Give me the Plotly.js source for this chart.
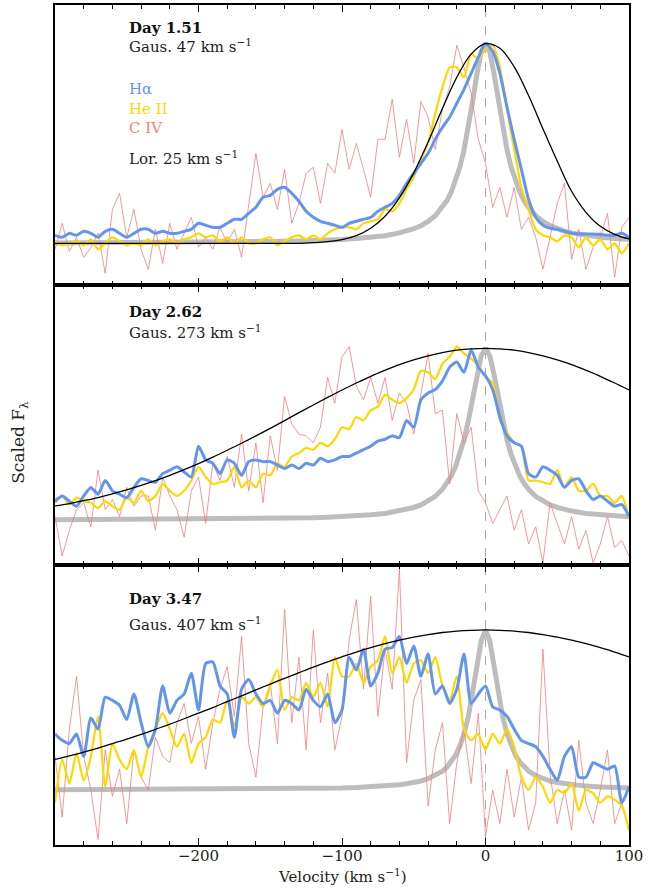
<!DOCTYPE html>
<html>
<head>
<meta charset="utf-8">
<script src="https://cdn.plot.ly/plotly-3.0.1.min.js"></script>
<style>html,body{margin:0;padding:0;background:#fff}#chart{width:665px;height:888px}</style>
</head>
<body>
<div id="chart"></div>
<script>
// Velocity grid of the spectra (km/s)
const vel = [-300,-295,-290,-285,-280,-275,-270,-265,-260,-255,-250,-245,-240,-235,-230,-225,-220,-215,-210,-205,-200,-195,-190,-185,-180,-175,-170,-165,-160,-155,-150,-145,-140,-135,-130,-125,-120,-115,-110,-105,-100,-95,-90,-85,-80,-75,-70,-65,-60,-55,-50,-45,-40,-35,-30,-25,-20,-15,-10,-5,0,5,10,15,20,25,30,35,40,45,50,55,60,65,70,75,80,85,90,95,100];

// Day 1.51
const ha1 = [0.04,0.03,0.05,0.04,0.06,0.05,0.03,0.06,0.07,0.05,0.03,0.05,0.07,0.07,0.05,0.06,0.05,0.05,0.06,0.07,0.10,0.09,0.08,0.08,0.10,0.12,0.12,0.15,0.18,0.23,0.24,0.27,0.28,0.25,0.21,0.16,0.13,0.11,0.10,0.09,0.08,
 0.10,0.11,0.12,0.13,0.16,0.18,0.20,0.24,0.30,0.35,0.40,0.45,0.52,0.58,0.63,0.70,0.77,0.85,0.93,1.00,0.96,0.85,0.68,0.52,0.37,0.22,0.13,0.09,0.075,0.07,0.06,0.05,0.047,0.047,0.047,0.045,0.04,0.04,0.05,0.03];
const he1 = [0.01,-0.01,0,0.01,-0.01,0.02,-0.03,0,0.03,0.01,-0.01,0,-0.01,0.02,-0.01,0.01,0.02,0,0.02,0.03,0.05,0.03,0.04,0.01,0.03,0,0.03,0,0,0.02,0.03,-0.01,0.01,0.03,0.04,0.02,0.04,0.02,0.05,0.07,0.08,
 0.08,0.07,0.10,0.11,0.12,0.17,0.16,0.20,0.27,0.33,0.42,0.50,0.65,0.78,0.88,0.88,0.83,0.95,0.92,0.97,0.99,0.88,0.67,0.47,0.28,0.17,0.07,0.04,0.03,0.01,0.04,0.03,-0.02,0.03,-0.01,0.02,-0.03,0,-0.05,0];
const civ1 = [-0.03,0.10,-0.04,0.03,-0.07,-0.02,0.05,-0.15,0.17,0.25,0.03,0.17,-0.03,-0.13,0.07,-0.10,0.10,-0.03,0.05,0.13,-0.02,0.03,-0.03,0.08,0,0.07,-0.07,0.20,0.45,0.23,0.30,0.17,0.37,0.10,0.20,0.35,0.38,0.20,0.40,0.35,0.57,
 0.37,0.50,0.37,0.23,0.52,0.52,0.72,0.43,0.62,0.40,0.71,0.63,0.47,0.67,0.78,0.99,0.88,0.75,0.52,0.40,0.18,0.28,0.13,0.28,0.07,0.13,0.03,-0.13,0.03,0.20,0.30,-0.08,0.07,-0.13,-0.02,0.03,0.15,-0.17,0.08,0.13];

// Day 2.62
const ha2 = [0.11,0.14,0.11,0.08,0.14,0.19,0.15,0.23,0.17,0.15,0.13,0.19,0.24,0.23,0.22,0.27,0.29,0.31,0.28,0.25,0.43,0.35,0.33,0.27,0.35,0.33,0.26,0.34,0.35,0.34,0.34,0.32,0.30,0.32,0.30,0.33,0.32,0.36,0.34,0.35,0.37,
 0.37,0.39,0.41,0.43,0.46,0.47,0.49,0.48,0.58,0.54,0.70,0.74,0.76,0.81,0.89,0.92,0.86,0.99,0.89,0.84,0.76,0.60,0.49,0.45,0.43,0.27,0.25,0.31,0.29,0.26,0.19,0.23,0.24,0.17,0.12,0.14,0.11,0.08,0.09,0.02];
const he2 = [0.10,0.14,0.09,0.13,0.11,0.10,0.07,0.11,0.08,0.06,0.13,0.10,0.17,0.11,0.14,0.21,0.17,0.14,0.17,0.23,0.31,0.25,0.21,0.22,0.23,0.31,0.19,0.23,0.19,0.27,0.26,0.33,0.31,0.37,0.39,0.42,0.41,0.45,0.43,0.47,0.54,
 0.53,0.60,0.58,0.64,0.66,0.73,0.70,0.68,0.71,0.76,0.87,0.86,0.82,0.91,0.95,1.01,0.97,0.94,0.90,0.83,0.80,0.58,0.51,0.45,0.43,0.23,0.23,0.22,0.21,0.29,0.19,0.25,0.17,0.17,0.21,0.14,0.14,0.10,0.14,0.01];
const civ2 = [0.02,-0.21,-0.06,0.06,0.10,-0.04,0.29,0.06,0.12,0.02,0.19,0.08,0.14,0.14,-0.06,0.25,0.14,0.06,-0.10,0.17,0.25,-0.02,0.33,0.23,0.37,0.19,0.50,0.17,0.45,0.10,0.49,0.29,0.72,0.56,0.50,0.49,0.45,0.54,0.83,0.68,0.95,
 1.01,0.78,0.70,0.83,0.68,0.83,0.58,0.74,0.68,0.50,0.74,0.97,0.62,0.64,0.21,0.62,0.45,0.54,0.17,0.10,-0.02,0.06,0.14,-0.06,0.06,-0.14,-0.04,-0.25,0.10,-0.02,-0.14,0.02,-0.17,-0.06,-0.25,-0.14,0.02,-0.16,-0.12,-0.21];

// Day 3.47
const ha3 = [0.35,0.31,0.29,0.35,0.21,0.45,0.38,0.58,0.56,0.53,0.44,0.60,0.42,0.27,0.38,0.65,0.48,0.56,0.60,0.73,0.50,0.79,0.80,0.65,0.60,0.33,0.63,0.69,0.60,0.54,0.56,0.48,0.56,0.54,0.50,0.63,0.56,0.52,0.60,0.42,0.50,
 0.83,0.75,0.88,0.65,0.73,0.88,0.89,0.96,0.79,0.90,0.71,0.85,0.60,0.65,0.54,0.63,0.85,0.54,0.60,0.65,0.52,0.50,0.46,0.38,0.31,0.29,0.27,0.21,0.13,0.06,0.21,0.27,0.08,0.08,0.17,0.15,0.13,0.15,-0.08,0.02];
const he3 = [-0.08,0.19,0.04,0.23,0.06,0.21,0.46,0.02,0.29,0.19,0.13,0.25,0.08,0.27,0.38,0.48,0.38,0.27,0.35,0.17,0.29,0.33,0.44,0.42,0.56,0.40,0.58,0.54,0.58,0.52,0.65,0.75,0.50,0.58,0.56,0.67,0.58,0.67,0.52,0.83,0.71,
 0.71,0.79,0.67,0.77,0.81,0.96,0.73,0.83,0.67,0.79,0.81,0.73,0.83,0.65,0.56,0.71,0.38,0.31,0.35,0.25,0.35,0.29,0.38,0.27,0.08,0,0.08,0.02,-0.08,0,-0.02,0.04,-0.13,0,-0.02,-0.08,-0.04,-0.06,-0.10,-0.25];
const civ3 = [0.21,-0.17,0.38,0.71,0.21,0,-0.31,0.25,-0.04,0.13,-0.21,0.25,0.08,0,0.33,0.21,0.17,0.42,0.54,0.29,0.46,0.13,0.42,0.63,0.77,0.46,0.96,0.29,0.08,0.52,0.67,0.29,1.13,0.42,0.83,0.25,1.00,0.42,0.73,0.25,0.46,
 0.94,1.19,0.63,1.21,0.46,0.88,0.63,1.38,0.17,0.56,0.69,-0.10,0.25,0.42,-0.21,0.17,0.38,0.04,0.48,-0.29,0,-0.21,0.13,-0.17,0.08,-0.25,-0.08,0.88,0.10,-0.21,0,-0.25,0.31,-0.08,-0.21,0,0.25,-0.21,-0.08,-0.25];

// Gaussian fits
const gV = [-300,-290,-280,-270,-260,-250,-240,-230,-220,-210,-200,-190,-180,-170,-160,-150,-140,-130,-120,-110,-100,-90,-80,-70,-60,-50,-40,-30,-20,-10,0,10,20,30,40,50,60,70,80,90,100];
const gau1 = [0,0,0,0,0,0,0,0,0,0,0,0,0,0,0,0,0,0,0.003,0.008,0.018,0.038,0.075,0.135,0.227,0.352,0.506,0.674,0.83,0.946,0.998,0.975,0.882,0.739,0.573,0.411,0.26,0.155,0.085,0.045,0.022];
const gau2 = [0.082,0.096,0.113,0.131,0.152,0.175,0.201,0.229,0.260,0.293,0.328,0.366,0.406,0.447,0.490,0.534,0.579,0.625,0.670,0.714,0.757,0.798,0.837,0.872,0.905,0.933,0.956,0.975,0.989,0.997,1,0.997,0.989,0.975,0.956,0.933,0.905,0.872,0.837,0.798,0.757];
const gau3 = [0.191,0.213,0.237,0.262,0.289,0.317,0.347,0.379,0.411,0.445,0.480,0.515,0.552,0.588,0.625,0.662,0.698,0.733,0.768,0.801,0.832,0.862,0.889,0.914,0.936,0.955,0.971,0.984,0.993,0.998,1,0.998,0.993,0.984,0.971,0.955,0.936,0.914,0.889,0.862,0.832];

// Lorentzian fits
const lorV = [-300,-250,-200,-170,-150,-130,-120,-110,-100,-90,-80,-70,-60,-55,-50,-45,-40,-35,-30,-27,-24,-21,-18,-15,-12,-9,-6,-3,0,3,6,9,12,15,18,21,24,27,30,35,40,45,50,55,60,70,80,90,100];
const lor1 = [0.002,0.003,0.005,0.007,0.009,0.012,0.013,0.016,0.019,0.024,0.030,0.038,0.052,0.061,0.073,0.088,0.109,0.138,0.179,0.212,0.254,0.308,0.377,0.466,0.576,0.708,0.845,0.956,1,0.956,0.845,0.708,0.576,0.466,0.377,0.308,0.254,0.212,0.179,0.138,0.109,0.088,0.073,0.061,0.052,0.038,0.030,0.024,0.019];
const lor2 = [0.002,0.003,0.005,0.007,0.009,0.012,0.013,0.016,0.019,0.024,0.030,0.038,0.052,0.061,0.073,0.088,0.109,0.138,0.179,0.212,0.254,0.308,0.377,0.466,0.576,0.708,0.845,0.956,1,0.956,0.845,0.708,0.576,0.466,0.377,0.308,0.254,0.212,0.179,0.138,0.109,0.088,0.073,0.061,0.052,0.038,0.030,0.024,0.019];
const lor3 = [0.001,0.002,0.003,0.004,0.005,0.007,0.008,0.010,0.012,0.015,0.019,0.024,0.033,0.039,0.046,0.056,0.070,0.090,0.118,0.142,0.174,0.215,0.272,0.350,0.457,0.599,0.771,0.931,1,0.931,0.771,0.599,0.457,0.350,0.272,0.215,0.174,0.142,0.118,0.090,0.070,0.056,0.046,0.039,0.033,0.024,0.019,0.015,0.012];

const dayLabels = ['Day 1.51','Day 2.62','Day 3.47'];
const gausLabels = ['Gaus. 47 km s<sup>−1</sup>','Gaus. 273 km s<sup>−1</sup>','Gaus. 407 km s<sup>−1</sup>'];
const lorLabel = 'Lor. 25 km s<sup>−1</sup>';
const lineNames = ['Hα','He II','C IV'];
const xTicks = [-200,-100,0,100];

const C_HA = '#6495ED', C_HE = '#FFD700', C_CIV = '#F08080', C_LOR = '#BDBDBD';
const FONT = 'DejaVu Serif';

const panels = [
  {xa:'x3', ya:'y3', ha:ha1, he:he1, civ:civ1, gau:gau1, lor:lor1},
  {xa:'x2', ya:'y2', ha:ha2, he:he2, civ:civ2, gau:gau2, lor:lor2},
  {xa:'x',  ya:'y',  ha:ha3, he:he3, civ:civ3, gau:gau3, lor:lor3}
];

const traces = [];
panels.forEach(p => {
  traces.push({x:lorV, y:p.lor, xaxis:p.xa, yaxis:p.ya, mode:'lines', line:{color:C_LOR, width:5}, hoverinfo:'skip'});
  traces.push({x:vel, y:p.civ, xaxis:p.xa, yaxis:p.ya, mode:'lines', line:{color:C_CIV, width:1}, opacity:0.8, hoverinfo:'skip'});
  traces.push({x:vel, y:p.he, xaxis:p.xa, yaxis:p.ya, mode:'lines', line:{color:C_HE, width:2.2, shape:'spline', smoothing:0.6}, hoverinfo:'skip'});
  traces.push({x:vel, y:p.ha, xaxis:p.xa, yaxis:p.ya, mode:'lines', line:{color:C_HA, width:3, shape:'spline', smoothing:0.6}, hoverinfo:'skip'});
  traces.push({x:gV, y:p.gau, xaxis:p.xa, yaxis:p.ya, mode:'lines', line:{color:'black', width:1.3, shape:'spline'}, hoverinfo:'skip'});
});

function xax(anchor, labels) {
  return {
    range:[-300,100], anchor:anchor, showline:true, linewidth:2, linecolor:'black', mirror:'ticks',
    ticks:'inside', ticklen:7, tickwidth:1, tickcolor:'black', tickmode:'array', tickvals:xTicks,
    showticklabels:labels, showgrid:false, zeroline:false, ticklabelstandoff:-4,
    tickfont:{family:FONT, size:15, color:'#222'},
    minor:{tickmode:'linear', tick0:0, dtick:20, ticks:'inside', ticklen:4, tickwidth:1, tickcolor:'black', showgrid:false}
  };
}
function yax(anchor, domain, range) {
  return {
    domain:domain, range:range, anchor:anchor, showline:true, linewidth:2, linecolor:'black', mirror:true,
    ticks:'', showticklabels:false, showgrid:false, zeroline:false
  };
}

const annos = [];
const dayY = [0.9726, 0.6347, 0.2925];
const gauY = [0.9508, 0.6107, 0.2627];
for (let i = 0; i < 3; i++) {
  annos.push({xref:'paper', yref:'paper', x:0.1254, y:dayY[i], xanchor:'left', yanchor:'middle', showarrow:false,
    text:'<b>'+dayLabels[i]+'</b>', font:{family:FONT, size:15, color:'#111'}});
  annos.push({xref:'paper', yref:'paper', x:0.1254, y:gauY[i], xanchor:'left', yanchor:'middle', showarrow:false,
    text:gausLabels[i], font:{family:FONT, size:15, color:'#222'}});
}
const legY = [0.8997, 0.8766, 0.8532];
const legC = [C_HA, C_HE, C_CIV];
for (let i = 0; i < 3; i++) {
  annos.push({xref:'paper', yref:'paper', x:0.1254, y:legY[i], xanchor:'left', yanchor:'middle', showarrow:false,
    text:lineNames[i], font:{family:FONT, size:15, color:legC[i]}});
}
annos.push({xref:'paper', yref:'paper', x:0.1254, y:0.8175, xanchor:'left', yanchor:'middle', showarrow:false,
  text:lorLabel, font:{family:FONT, size:15, color:'#222'}});
annos.push({xref:'paper', yref:'paper', x:0.5, y:-0.0369, xanchor:'center', yanchor:'middle', showarrow:false,
  text:'Velocity (km s<sup>−1</sup>)', font:{family:FONT, size:15, color:'#222'}});
annos.push({xref:'paper', yref:'paper', x:-0.061, y:0.48, xanchor:'center', yanchor:'middle', showarrow:false, textangle:-90,
  text:'Scaled F<sub>λ</sub>', font:{family:FONT, size:17, color:'#222'}});

const layout = {
  width:665, height:888, margin:{l:55, r:36, t:5, b:43},
  paper_bgcolor:'#fff', plot_bgcolor:'#fff', showlegend:false,
  xaxis: xax('y', true), xaxis2: xax('y2', false), xaxis3: xax('y3', false),
  yaxis: yax('x', [0, 1/3], [-0.344, 1.406]),
  yaxis2: yax('x2', [1/3, 2/3], [-0.2621, 1.3687]),
  yaxis3: yax('x3', [2/3, 1], [-0.2085, 1.1915]),
  shapes:[{type:'line', xref:'x', yref:'paper', x0:0, x1:0, y0:0, y1:1, layer:'below',
    line:{color:'#aaaaaa', width:1, dash:'dash'}}],
  annotations: annos
};

Plotly.newPlot('chart', traces, layout, {staticPlot:true, displayModeBar:false});
</script>
</body>
</html>
